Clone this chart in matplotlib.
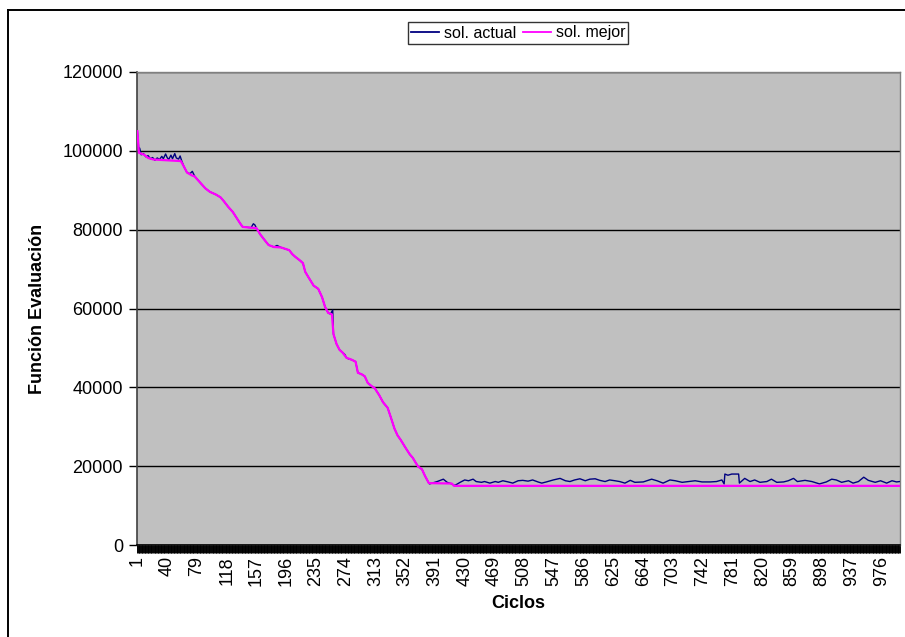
import matplotlib
matplotlib.use("Agg")
import matplotlib.pyplot as plt
from matplotlib.lines import Line2D

plt.rcParams["font.family"] = ["Liberation Sans", "DejaVu Sans"]

# ---- data (cycle, value) ------------------------------------------------- #
# sol. mejor: best solution so far (non-increasing)
ciclos_mejor = [1, 3, 10, 15, 22, 40, 58, 62, 66, 72, 76, 83, 90, 96, 104,
                110, 114, 120, 126, 131, 136, 139, 150, 157, 162, 168, 173,
                180, 189, 200, 204, 208, 214, 218, 221, 225, 232, 238, 243,
                247, 251, 256, 258, 262, 266, 270, 275, 282, 287, 290, 295,
                299, 303, 308, 312, 318, 323, 329, 333, 338, 342, 346, 352,
                358, 362, 366, 369, 374, 378, 383, 413, 416, 1000]
mejor = [105000, 99500, 99000, 98200, 97800, 97600, 97400, 96000, 94500,
         93800, 93500, 92000, 90500, 89600, 88900, 88200, 87300, 85800,
         84500, 83000, 81500, 80700, 80500, 80400, 78800, 77300, 76100,
         75600, 75500, 74800, 73800, 73100, 72200, 71500, 69300, 68000,
         65800, 65000, 62900, 60400, 58900, 58500, 53500, 51000, 49500,
         48800, 47500, 47000, 46500, 43700, 43300, 42800, 41100, 40300,
         39800, 38000, 36200, 34800, 32500, 29500, 27800, 26700, 24800,
         23000, 22100, 20800, 19900, 19200, 17500, 15700, 15600, 15000,
         15000]

# sol. actual: current solution
ciclos_actual = [1, 3, 4, 6, 9, 12, 15, 18, 21, 24, 27, 30, 33, 35, 38, 40,
                 42, 45, 47, 50, 52, 55, 57, 59, 62, 66, 70, 73, 76, 83, 90,
                 96, 104, 110, 114, 120, 126, 131, 136, 139, 150, 153, 155,
                 157, 162, 168, 173, 180, 184, 189, 200, 204, 208, 214, 218,
                 221, 225, 232, 238, 243, 247, 251, 254, 257, 258, 262, 266,
                 270, 273, 275, 278, 282, 287, 290, 295, 299, 303, 308, 312,
                 318, 323, 329, 333, 338, 342, 346, 352, 358, 362, 366, 369,
                 374, 378, 383,
                 384, 394, 402, 407, 413, 417, 424, 430, 435, 441, 445, 452,
                 456, 463, 470, 474, 480, 487, 493, 500, 506, 513, 519, 526,
                 531, 537, 546, 555, 562, 568, 574, 581, 588, 594, 601, 607,
                 614, 620, 627, 633, 640, 647, 653, 664, 675, 682, 690, 699,
                 706, 715, 724, 732, 741, 752, 760, 767, 770, 771, 775, 780,
                 789, 790, 797, 804, 810, 817, 826, 832, 839, 848, 854, 861,
                 866, 876, 885, 895, 904, 911, 917, 924, 933, 939, 946, 953,
                 959, 968, 975, 983, 990, 996, 1000]
actual = [105000, 99800, 100700, 99000, 99300, 98500, 98800, 98000, 98300,
          97600, 98200, 97800, 98600, 98000, 99200, 98300, 97800, 98900,
          98000, 99300, 98200, 97900, 98700, 97500, 96000, 94500, 94200,
          94800, 93600, 92000, 90500, 89600, 88900, 88200, 87300, 85800,
          84500, 83000, 81500, 80700, 80500, 81500, 81200, 80400, 78800,
          77300, 76100, 75600, 76000, 75500, 74800, 73800, 73100, 72200,
          71500, 69300, 68000, 65800, 65000, 62900, 60400, 58900, 58600,
          59600, 53500, 51000, 49500, 48800, 48300, 47500, 47200, 47000,
          46500, 43700, 43300, 42800, 41100, 40300, 39800, 38000, 36200,
          34800, 32500, 29500, 27800, 26700, 24800, 23000, 22100, 20800,
          19900, 19200, 17500, 15700,
          15500, 16100, 16700, 15900, 15500, 15100, 15900, 16500, 16300,
          16700, 16100, 15900, 16100, 15700, 16100, 15900, 16300, 16000,
          15700, 16300, 16400, 16200, 16500, 16000, 15700, 16000, 16500,
          16900, 16300, 16100, 16500, 16800, 16300, 16700, 16800, 16400,
          16100, 16500, 16300, 16100, 15700, 16400, 15900, 16000, 16700,
          16300, 15700, 16500, 16300, 15900, 16100, 16300, 16000, 16000,
          16100, 16500, 15500, 18000, 17700, 18000, 18000, 15700, 16900,
          16100, 16500, 15900, 16100, 16700, 15900, 16000, 16300, 16900,
          16100, 16400, 16100, 15500, 16000, 16700, 16500, 15900, 16300,
          15700, 16100, 17200, 16400, 15900, 16300, 15700, 16300, 16000,
          16100]

n_ciclos = 1000
label_ciclos = list(range(1, n_ciclos + 1, 39))
y_ticks = [0, 20000, 40000, 60000, 80000, 100000, 120000]

# ---- figure -------------------------------------------------------------- #
W, H = 905, 637
fig = plt.figure(figsize=(W / 100, H / 100), dpi=100)
fig.patch.set_facecolor("white")

# outer chart frame (clipped at right / bottom in the reference)
fig.add_artist(Line2D([8 / W, 8 / W], [0, 1 - 10 / H], color="black", lw=1.4,
                      transform=fig.transFigure))
fig.add_artist(Line2D([8 / W, 1], [1 - 10 / H, 1 - 10 / H], color="black",
                      lw=1.4, transform=fig.transFigure))

left, right, top, bottom = 137, 900, 72, 545
ax = fig.add_axes([left / W, 1 - bottom / H, (right - left) / W,
                   (bottom - top) / H])
ax.set_facecolor("#C0C0C0")

ax.plot(ciclos_actual, actual, color="#000080", lw=1.0, label="sol. actual",
        zorder=3)
ax.plot(ciclos_mejor, mejor, color="#FF00FF", lw=1.6, label="sol. mejor",
        zorder=4)

ax.set_xlim(0.5, n_ciclos + 0.5)
ax.set_ylim(0, 120000)
ax.set_yticks(y_ticks)
ax.set_yticklabels([str(v) for v in y_ticks])
ax.yaxis.grid(True, color="black", lw=1.0)
ax.set_axisbelow(True)

# dense category tick marks + sparse labels
ax.set_xticks(label_ciclos)
ax.set_xticklabels([str(c) for c in label_ciclos], rotation=90)
ax.set_xticks([c + 0.5 for c in range(0, n_ciclos + 1)], minor=True)
ax.tick_params(axis="x", which="major", length=0, pad=8, labelsize=13)
ax.tick_params(axis="x", which="minor", length=6, width=0.7, color="black",
               direction="out")
ax.tick_params(axis="y", length=6, width=1, labelsize=13, pad=4)

for side in ("top", "right"):
    ax.spines[side].set_color("#808080")
    ax.spines[side].set_linewidth(1.0)
ax.spines["left"].set_color("#404040")
ax.spines["left"].set_linewidth(1.2)
ax.spines["bottom"].set_color("black")
ax.spines["bottom"].set_linewidth(1.2)

ax.set_xlabel("Ciclos", fontsize=13, fontweight="bold", labelpad=6)
ax.set_ylabel("Función Evaluación", fontsize=13, fontweight="bold",
              labelpad=12)

leg = fig.legend(loc="center", bbox_to_anchor=(518 / W, 1 - 33 / H), ncol=2,
                 fontsize=11.5, frameon=True, fancybox=False,
                 edgecolor="black", handlelength=1.75, handletextpad=0.3,
                 columnspacing=0.45, borderpad=0.2, borderaxespad=0)
leg.get_frame().set_linewidth(1.0)
for line in leg.get_lines():
    line.set_linewidth(1.3)

fig.savefig("out.png", dpi=100)
